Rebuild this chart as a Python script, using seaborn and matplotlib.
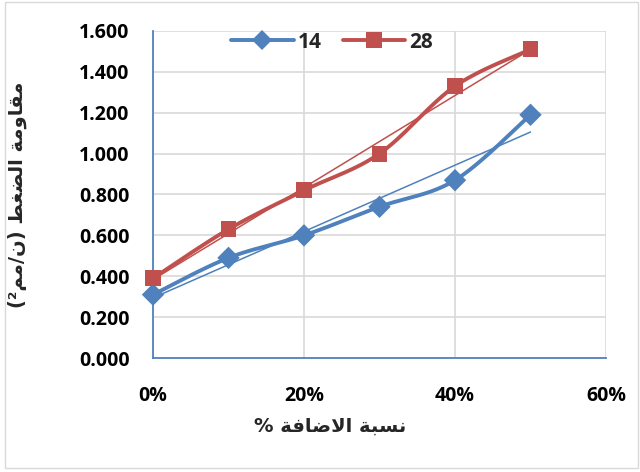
import numpy as np
import matplotlib
matplotlib.use("Agg")
import matplotlib.pyplot as plt
from matplotlib.lines import Line2D
from matplotlib.patches import Rectangle
import seaborn as sns
import pandas as pd

# ---- data ----
x_pct = [0, 10, 20, 30, 40, 50]
s14 = [0.31, 0.49, 0.60, 0.74, 0.87, 1.19]
s28 = [0.39, 0.63, 0.82, 1.00, 1.33, 1.51]
series_names = ["14", "28"]
x_ticks = [0, 20, 40, 60]
y_ticks = [0.0, 0.2, 0.4, 0.6, 0.8, 1.0, 1.2, 1.4, 1.6]

# Arabic labels in visual (presentation-form) order
xlabel = "% " + "\uFE94\uFED3\uFE8E\uFEBF\uFEFB\uFE8D" + " " + "\uFE94\uFE92\uFEB4\uFEE7"
ylabel = "(\u00B2" + "\uFEE2\uFEE3" + "/" + "\uFEE5" + ") " + \
         "\uFEC2\uFED0\uFEC0\uFEDF\uFE8D" + " " + "\uFE94\uFEE3\uFEED\uFE8E\uFED8\uFEE3"

BLUE = "#4F81BD"
RED = "#C0504D"
GRID = "#D9D9D9"
TICKFONT = ["Open Sans", "DejaVu Sans"]

sns.set_theme(style="white")
plt.rcParams["font.family"] = TICKFONT
plt.rcParams["font.weight"] = "bold"

df = pd.DataFrame({
    "x": x_pct * 2,
    "y": s14 + s28,
    "series": [series_names[0]] * len(x_pct) + [series_names[1]] * len(x_pct),
})

fig = plt.figure(figsize=(6.4, 4.72), dpi=100)
ax = fig.add_axes([153/640, 1-358/472, (606-153)/640, (358-31)/472])


def smooth(xs, ys, n=30):
    xs = np.asarray(xs, float); ys = np.asarray(ys, float)
    P = np.column_stack([xs, ys])
    out = []
    for i in range(len(P) - 1):
        p0 = P[i - 1] if i > 0 else P[i]
        p1 = P[i]
        p2 = P[i + 1]
        p3 = P[i + 2] if i + 2 < len(P) else P[i + 1]
        c1 = p1 + (p2 - p0) / 6.0
        c2 = p2 - (p3 - p1) / 6.0
        t = np.linspace(0, 1, n)[:, None]
        seg = (1 - t) ** 3 * p1 + 3 * (1 - t) ** 2 * t * c1 + 3 * (1 - t) * t ** 2 * c2 + t ** 3 * p2
        out.append(seg if i == 0 else seg[1:])
    c = np.vstack(out)
    return c[:, 0], c[:, 1]


for name, ys, col in [("14", s14, BLUE), ("28", s28, RED)]:
    sx, sy = smooth(x_pct, ys)
    ax.plot(sx, sy, color=col, lw=2.8, zorder=3, solid_capstyle="round")
    k, b = np.polyfit(x_pct, ys, 1)
    tx = np.array([x_pct[0], x_pct[-1]])
    ax.plot(tx, k * tx + b, color=col, lw=1.1, zorder=4)

sns.scatterplot(data=df, x="x", y="y", hue="series", style="series",
                palette={"14": BLUE, "28": RED},
                markers={"14": "D", "28": "s"},
                s=130, edgecolor="none", linewidth=0,
                legend=False, ax=ax, zorder=5, clip_on=False)

ax.set_xlim(0, 60)
ax.set_ylim(0, 1.6)
ax.set_xticks(x_ticks)
ax.set_xticklabels([f"{t}%" for t in x_ticks])
ax.set_yticks(y_ticks)
ax.set_yticklabels([f"{t:.3f}" for t in y_ticks])
ax.tick_params(axis="both", length=0, labelsize=14, colors="black")
ax.tick_params(axis="y", pad=17)
ax.tick_params(axis="x", pad=20)
for lab in ax.get_xticklabels() + ax.get_yticklabels():
    lab.set_fontweight("bold")
    lab.set_family(TICKFONT)

ax.grid(True, color=GRID, lw=1.2)
ax.set_axisbelow(True)
for sp in ["top", "right"]:
    ax.spines[sp].set_visible(False)
for sp in ["left", "bottom"]:
    ax.spines[sp].set_color(BLUE)
    ax.spines[sp].set_linewidth(1.3)

ax.set_xlabel(xlabel, fontsize=14, fontweight="bold", family=["DejaVu Sans"])
ax.set_ylabel(ylabel, fontsize=14, fontweight="bold", family=["DejaVu Sans"])
ax.xaxis.set_label_coords((330-153)/453, (358-417)/327)
ax.yaxis.set_label_coords((27-153)/453, 0.5)

handles = [
    Line2D([0], [0], color=BLUE, lw=2.8, marker="D", markersize=10, markeredgewidth=0),
    Line2D([0], [0], color=RED, lw=2.8, marker="s", markersize=11, markeredgewidth=0),
]
fig.legend(handles, series_names, loc="center", bbox_to_anchor=(332/640, 1-42/472),
           ncol=2, frameon=False, handlelength=3.0, handletextpad=0.2,
           columnspacing=1.0, prop={"family": TICKFONT, "weight": "bold", "size": 15})

fig.patches.append(Rectangle((5/640, 4/472), 633/640, 466/472, transform=fig.transFigure,
                             fill=False, edgecolor=GRID, lw=1.0))

fig.savefig("out.png", dpi=100)
